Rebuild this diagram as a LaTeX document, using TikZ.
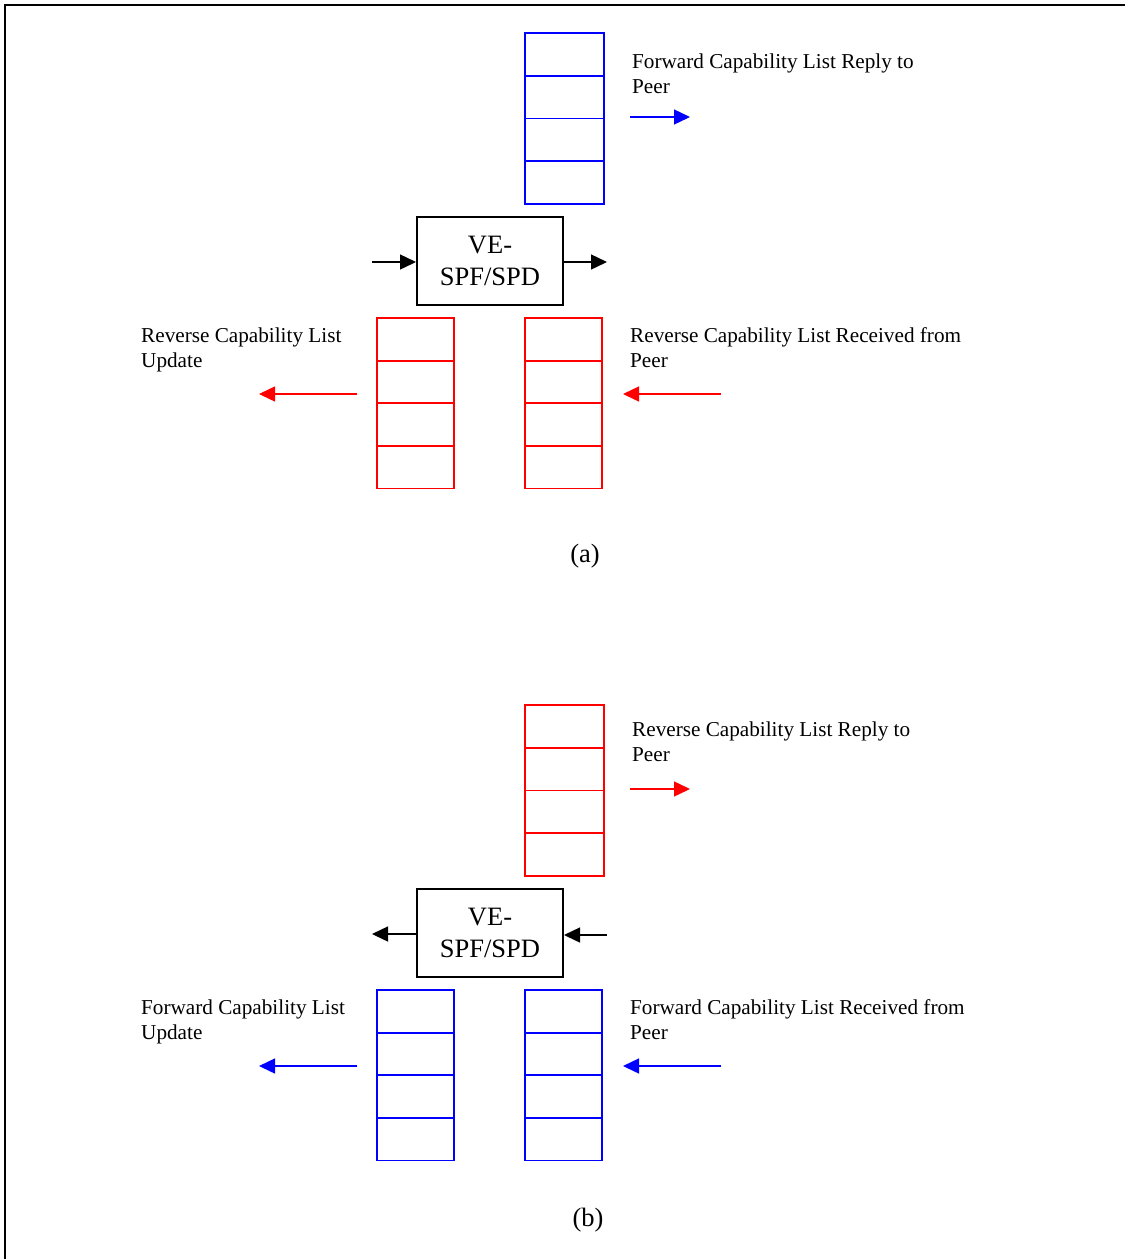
\documentclass[tikz,border=0pt]{standalone}
\usepackage{fontspec}
\setmainfont{Liberation Serif}
\usetikzlibrary{arrows.meta}
\definecolor{fblue}{RGB}{0,0,255}
\definecolor{rred}{RGB}{255,0,0}
\tikzset{
  cellbox/.style={draw=#1, line width=1.8pt, minimum width=77pt, minimum height=42.7pt, inner sep=0pt, outer sep=0pt},
  arr/.style={draw=#1, line width=1.4pt, -{Triangle[length=16pt,width=15pt]}},
  lbl/.style={anchor=base west, align=left, inner sep=0pt, font=\fontsize{21.2}{25}\selectfont},
  figcap/.style={anchor=base, inner sep=0pt, font=\fontsize{26.5}{32}\selectfont},
  procbox/.style={draw=black, line width=2pt, minimum width=146pt, minimum height=88pt, inner sep=0pt, align=center, font=\fontsize{26.5}{32}\selectfont},
}
\begin{document}
\begin{tikzpicture}[x=1pt,y=-1pt]
\useasboundingbox (0,0) rectangle (1125,1259);
\draw[line width=2pt] (5,1262) -- (5,5) -- (1128,5);

% ---------- (a) ----------
\foreach \i in {0,1,2,3} {
  \node[cellbox=fblue, minimum width=79pt] (ta\i) at (564.5,{54.4+42.7*\i}) {};
  \node[cellbox=rred] (la\i) at (415.5,{339.4+42.6*\i}) {};
  \node[cellbox=rred] (ra\i) at (563.5,{339.4+42.6*\i}) {};
}
\node[procbox] (pa) at (490,261) {VE-\\SPF/SPD};
\coordinate (pain) at (372,262);
\coordinate (paout) at (607,262);
\draw[arr=black] (pain) -- (pa.west|-pain);
\draw[arr=black] (pa.east|-paout) -- (paout);

\coordinate (fa1) at (630,117); \coordinate (fa2) at (690,117);
\draw[arr=fblue] (fa1) -- (fa2);
\node[lbl] (tfa) at (632,93) {Forward Capability List Reply to\\Peer};

\coordinate (la1) at (357,394); \coordinate (la2) at (259,394);
\draw[arr=rred] (la1) -- (la2);
\node[lbl] (tla) at (141,367.5) {Reverse Capability List\\Update};

\coordinate (ra1) at (721,394); \coordinate (ra2) at (623,394);
\draw[arr=rred] (ra1) -- (ra2);
\node[lbl] (tra) at (630,367.5) {Reverse Capability List Received from\\Peer};

\node[figcap] (capa) at (585,562) {(a)};

% ---------- (b) ----------
\foreach \i in {0,1,2,3} {
  \node[cellbox=rred, minimum width=79pt] (tb\i) at (564.5,{726.4+42.7*\i}) {};
  \node[cellbox=fblue] (lb\i) at (415.5,{1011.4+42.6*\i}) {};
  \node[cellbox=fblue] (rb\i) at (563.5,{1011.4+42.6*\i}) {};
}
\node[procbox] (pb) at (490,933) {VE-\\SPF/SPD};
\coordinate (pbout) at (372,934);
\coordinate (pbin) at (607,935);
\draw[arr=black] (pb.west|-pbout) -- (pbout);
\draw[arr=black] (pbin) -- (pb.east|-pbin);

\coordinate (fb1) at (630,789); \coordinate (fb2) at (690,789);
\draw[arr=rred] (fb1) -- (fb2);
\node[lbl] (tfb) at (632,761) {Reverse Capability List Reply to\\Peer};

\coordinate (lb1) at (357,1066); \coordinate (lb2) at (259,1066);
\draw[arr=fblue] (lb1) -- (lb2);
\node[lbl] (tlb) at (141,1039.5) {Forward Capability List\\Update};

\coordinate (rb1) at (721,1066); \coordinate (rb2) at (623,1066);
\draw[arr=fblue] (rb1) -- (rb2);
\node[lbl] (trb) at (630,1039.5) {Forward Capability List Received from\\Peer};

\node[figcap] (capb) at (588,1226) {(b)};
\end{tikzpicture}
\end{document}
